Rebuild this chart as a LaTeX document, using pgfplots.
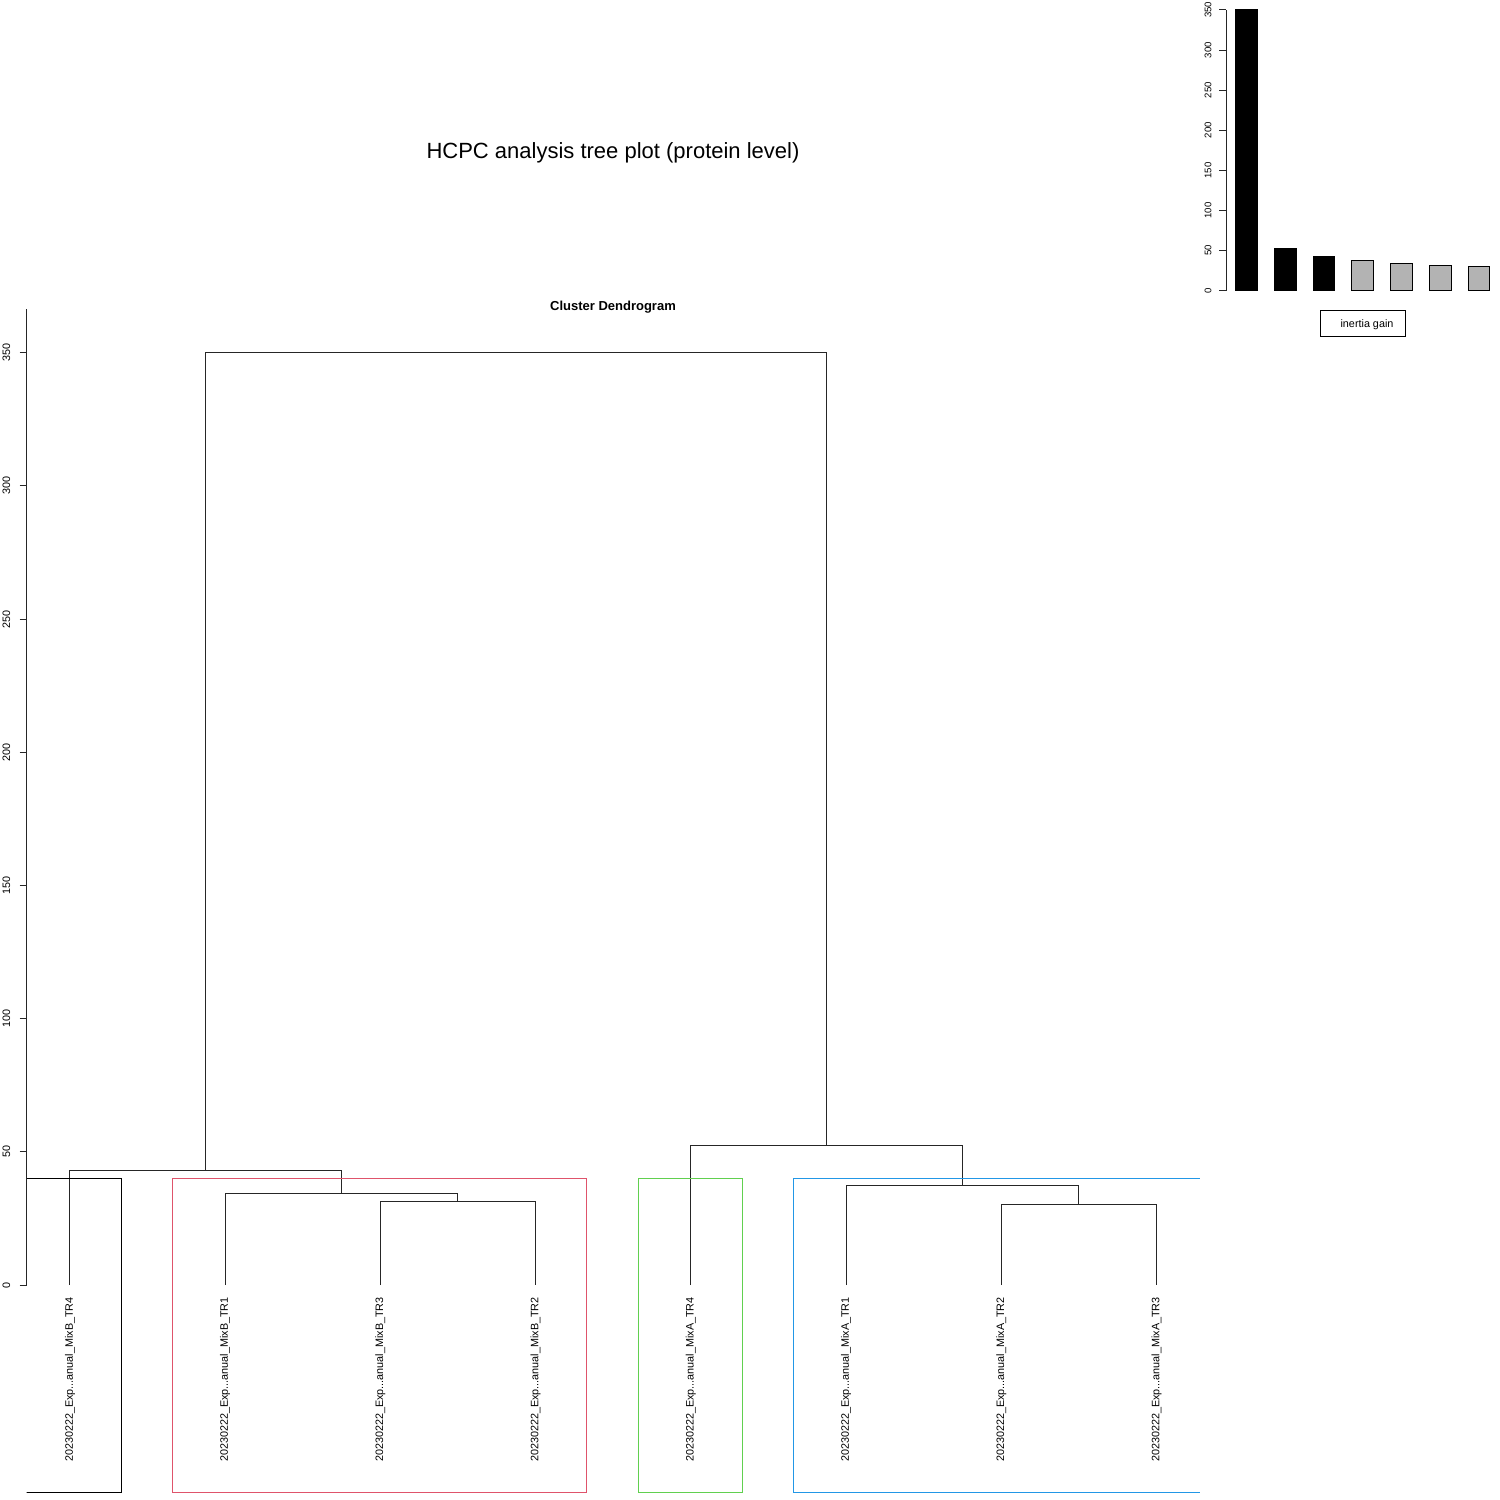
\documentclass[border=0pt]{standalone}
\usepackage{pgfplots}
\pgfplotsset{compat=1.18}
\usepackage{fontspec}
\setmainfont{Liberation Sans}
\definecolor{rred}{HTML}{DF536B}
\definecolor{rgreen}{HTML}{61D04F}
\definecolor{rblue}{HTML}{2297E6}
\definecolor{rgrey}{RGB}{179,179,179}

\begin{document}
\begin{tikzpicture}[x=1pt,y=1pt,
  dend/.style={black!85, line width=1pt, mark=none},
  rect/.style={line width=1pt, mark=none, line join=miter},
  leaf/.style={rotate=90, anchor=east, inner sep=0pt, font=\fontsize{10.8}{12}\selectfont},
]
\path[use as bounding box] (0,0) rectangle (1500,1500);

% titles
\node[anchor=base, font=\fontsize{22}{26}\selectfont] at (613,1341) {HCPC analysis tree plot (protein level)};
\node[anchor=base, font=\bfseries\fontsize{13}{15}\selectfont] at (613,1189.5) {Cluster Dendrogram};

% dendrogram
\begin{axis}[
  at={(26.5pt,8pt)}, anchor=south west, scale only axis,
  width=1173.4pt, height=1183pt,
  xmin=0.72, xmax=8.28, ymin=-77.7, ymax=366.4,
  axis lines*=left, axis line style={draw=none},
  xtick=\empty, ytick={0,50,...,350},
  tick align=outside, major tick length=7pt,
  tick style={black!85, line width=1pt},
  yticklabel style={rotate=90, anchor=south, inner sep=0pt, font=\fontsize{10.8}{12}\selectfont},
  yticklabel shift=9pt,
  /pgf/number format/assume math mode=true,
  clip mode=individual,
]
% merges (leaf order: MixB_TR4, MixB_TR1, MixB_TR3, MixB_TR2, MixA_TR4, MixA_TR1, MixA_TR2, MixA_TR3)
\addplot[dend] coordinates {(3,0) (3,31.5) (4,31.5) (4,0)};
\addplot[dend] coordinates {(2,0) (2,34.5) (3.5,34.5) (3.5,31.5)};
\addplot[dend] coordinates {(1,0) (1,42.8) (2.75,42.8) (2.75,34.5)};
\addplot[dend] coordinates {(7,0) (7,30.4) (8,30.4) (8,0)};
\addplot[dend] coordinates {(6,0) (6,37.2) (7.5,37.2) (7.5,30.4)};
\addplot[dend] coordinates {(5,0) (5,52.2) (6.75,52.2) (6.75,37.2)};
\addplot[dend] coordinates {(1.875,42.8) (1.875,350) (5.875,350) (5.875,52.2)};

% cluster boxes
\addplot[rect, black] coordinates {(0.66,40) (1.33,40) (1.33,-77.7) (0.66,-77.7) (0.66,40)};
\addplot[rect, rred] coordinates {(1.66,40) (4.33,40) (4.33,-77.7) (1.66,-77.7) (1.66,40)};
\addplot[rect, rgreen] coordinates {(4.66,40) (5.33,40) (5.33,-77.7) (4.66,-77.7) (4.66,40)};
\addplot[rect, rblue] coordinates {(5.66,40) (8.33,40) (8.33,-77.7) (5.66,-77.7) (5.66,40)};

\draw[black!85, line width=1pt] (axis cs:0.72,0) -- (axis cs:0.72,366.4);

\node[leaf] at (axis cs:1,-4.5) {20230222\_Exp...anual\_MixB\_TR4};
\node[leaf] at (axis cs:2,-4.5) {20230222\_Exp...anual\_MixB\_TR1};
\node[leaf] at (axis cs:3,-4.5) {20230222\_Exp...anual\_MixB\_TR3};
\node[leaf] at (axis cs:4,-4.5) {20230222\_Exp...anual\_MixB\_TR2};
\node[leaf] at (axis cs:5,-4.5) {20230222\_Exp...anual\_MixA\_TR4};
\node[leaf] at (axis cs:6,-4.5) {20230222\_Exp...anual\_MixA\_TR1};
\node[leaf] at (axis cs:7,-4.5) {20230222\_Exp...anual\_MixA\_TR2};
\node[leaf] at (axis cs:8,-4.5) {20230222\_Exp...anual\_MixA\_TR3};
\end{axis}

% inertia gain barplot
\begin{axis}[
  at={(1226pt,1209.3pt)}, anchor=south west, scale only axis,
  width=274pt, height=280.7pt,
  xmin=0.471, xmax=7.542, ymin=0, ymax=350,
  axis lines*=left, x axis line style={draw=none},
  axis line style={line width=1pt, black!85},
  xtick=\empty, ytick={0,50,...,350},
  tick align=outside, major tick length=6.7pt,
  tick style={black!85, line width=1pt},
  yticklabel style={rotate=90, anchor=south, inner sep=0pt, font=\fontsize{9.6}{11}\selectfont},
  yticklabel shift=7.6pt,
  /pgf/number format/assume math mode=true,
  bar width=21.7pt,
  clip=false,
]
\addplot[ybar, bar shift=0pt, fill=black, draw=black, line width=1pt] coordinates {(1,350) (2,52.2) (3,42.8)};
\addplot[ybar, bar shift=0pt, fill=rgrey, draw=black, line width=1pt] coordinates {(4,37.2) (5,34.5) (6,31.5) (7,30.4)};
\end{axis}

\node[draw, line width=0.8pt, minimum width=85pt, minimum height=26pt, inner sep=0pt] at (1362.5,1177) {};
\node[font=\fontsize{10.8}{12}\selectfont] at (1367,1175.5) {inertia gain};
\end{tikzpicture}
\end{document}
